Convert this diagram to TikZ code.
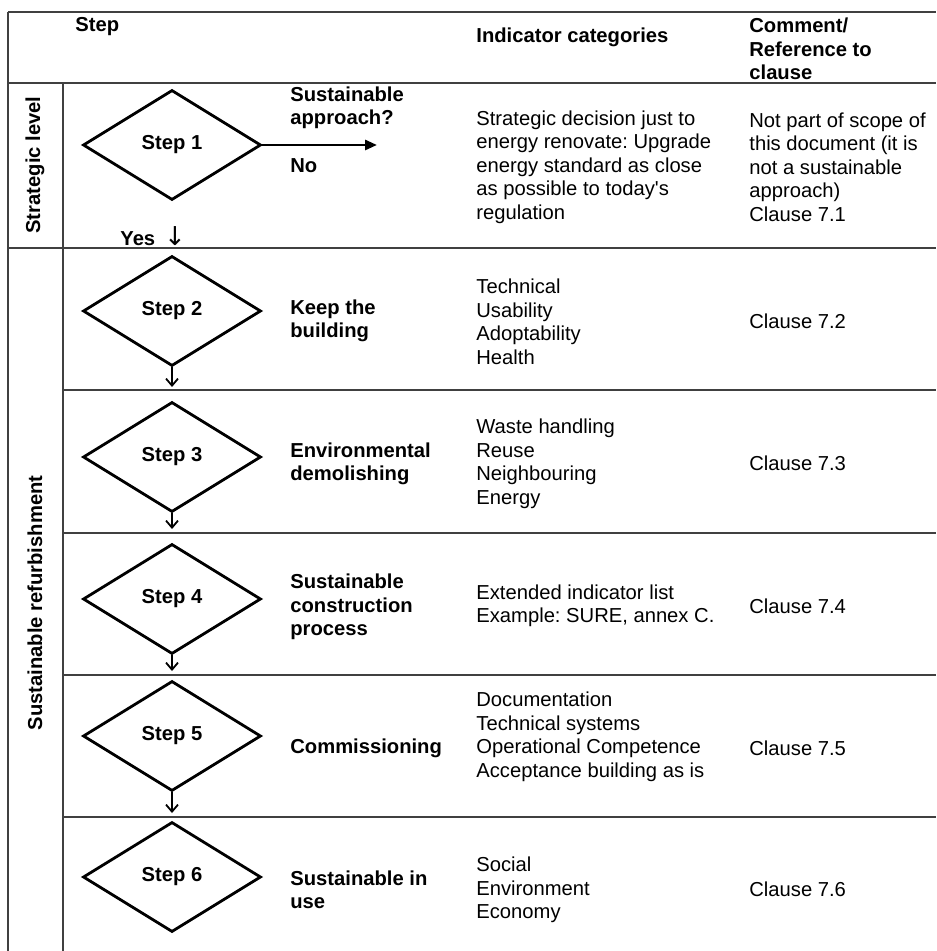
\documentclass[tikz,border=0pt]{standalone}
\usepackage{fontspec}
\setmainfont{Liberation Sans}[Ligatures=TeXOff]
\newfontfamily\arrowfont{DejaVu Sans}
\usetikzlibrary{positioning,arrows.meta,shapes.geometric}

\begin{document}
\frenchspacing
\begin{tikzpicture}[
    x=0.5pt,y=-0.5pt,
    every node/.style={font=\fontsize{10.1}{11.75}\selectfont,inner sep=0pt},
    stepshape/.style={draw,diamond,line width=1.4pt,minimum width=89pt,minimum height=55pt,font=\fontsize{10.1}{11.75}\selectfont\bfseries},
    txt/.style={anchor=west,align=left},
    bold/.style={txt,font=\fontsize{10.1}{11.75}\selectfont\bfseries},
    side/.style={rotate=90,font=\fontsize{10.1}{11.75}\selectfont\bfseries},
    rule/.style={black!75,line width=0.9pt},
    flow/.style={-{Straight Barb[length=3.5pt,width=6pt]},line width=0.9pt},
    exit/.style={-{Triangle[length=6pt,width=5pt]},line width=1.4pt},
]
\useasboundingbox (0,0) rectangle (936,951);

% Table rules
\draw[rule] (8,12) -- (936,12);
\draw[rule] (8,83) -- (936,83);
\draw[rule] (8,248) -- (936,248);
\draw[rule] (8,12) -- (8,951);
\draw[rule] (63,83) -- (63,951);
\draw[rule] (63,390) -- (936,390);
\draw[rule] (63,533) -- (936,533);
\draw[rule] (63,675) -- (936,675);
\draw[rule] (63,817) -- (936,817);

% Header row
\node[bold] (hstep) at (75,27) {Step};
\node[bold] (hind) at (476,37) {Indicator categories};
\node[bold] (hcom) at (749,49) {Comment/\\Reference to\\clause};

% Levels
\node[side] (lstrat) at (35,165) {Strategic level};
\node[side] (lrefurb) at (35,603) {Sustainable refurbishment};

% Steps
\node[stepshape] (s1) at (172,145) {Step 1};
\node[stepshape] (s2) at (172,311) {Step 2};
\node[stepshape] (s3) at (172,457) {Step 3};
\node[stepshape] (s4) at (172,599) {Step 4};
\node[stepshape] (s5) at (172,736) {Step 5};
\node[stepshape] (s6) at (172,877) {Step 6};

% Step 1 --- decision
\coordinate (no) at (377,145);
\draw[exit] (s1.east) -- (no);
\node[bold] (q1) at (290,108) {Sustainable\\approach?};
\node[bold] (ans) at (290,166) {No};
\node[txt] (yes) at (120,236) {\bfseries Yes\, {\arrowfont\mdseries\fontsize{13}{13}\selectfont ↓}};

% Flow between the steps
\coordinate (e2) at (172,387);
\coordinate (e3) at (172,529);
\coordinate (e4) at (172,671);
\coordinate (e5) at (172,813);
\draw[flow] (s2.south) -- (e2);
\draw[flow] (s3.south) -- (e3);
\draw[flow] (s4.south) -- (e4);
\draw[flow] (s5.south) -- (e5);

% Step titles
\node[bold] (t2) at (290,321) {Keep the\\building};
\node[bold] (t3) at (290,464) {Environmental\\demolishing};
\node[bold] (t4) at (290,607) {Sustainable\\construction\\process};
\node[bold] (t5) at (290,748) {Commissioning};
\node[bold] (t6) at (290,890) {Sustainable in\\use};

% Indicator categories
\node[txt] (i1) at (476,167) {Strategic decision just to\\energy renovate: Upgrade\\energy standard as close\\as possible to today's\\regulation};
\node[txt] (i2) at (476,322) {Technical\\Usability\\Adoptability\\Health};
\node[txt] (i3) at (476,464) {Waste handling\\Reuse\\Neighbouring\\Energy};
\node[txt] (i4) at (476,606) {Extended indicator list\\Example: SURE, annex C.};
\node[txt] (i5) at (476,737) {Documentation\\Technical systems\\Operational Competence\\Acceptance building as is};
\node[txt] (i6) at (476,890) {Social\\Environment\\Economy};

% Comments / clauses
\node[txt] (c1) at (749,167) {Not part of scope of\\this document (it is\\not a sustainable\\approach)\\Clause 7.1};
\node[txt] (c2) at (749,321) {Clause 7.2};
\node[txt] (c3) at (749,463) {Clause 7.3};
\node[txt] (c4) at (749,606) {Clause 7.4};
\node[txt] (c5) at (749,748) {Clause 7.5};
\node[txt] (c6) at (749,889) {Clause 7.6};
\end{tikzpicture}
\end{document}
